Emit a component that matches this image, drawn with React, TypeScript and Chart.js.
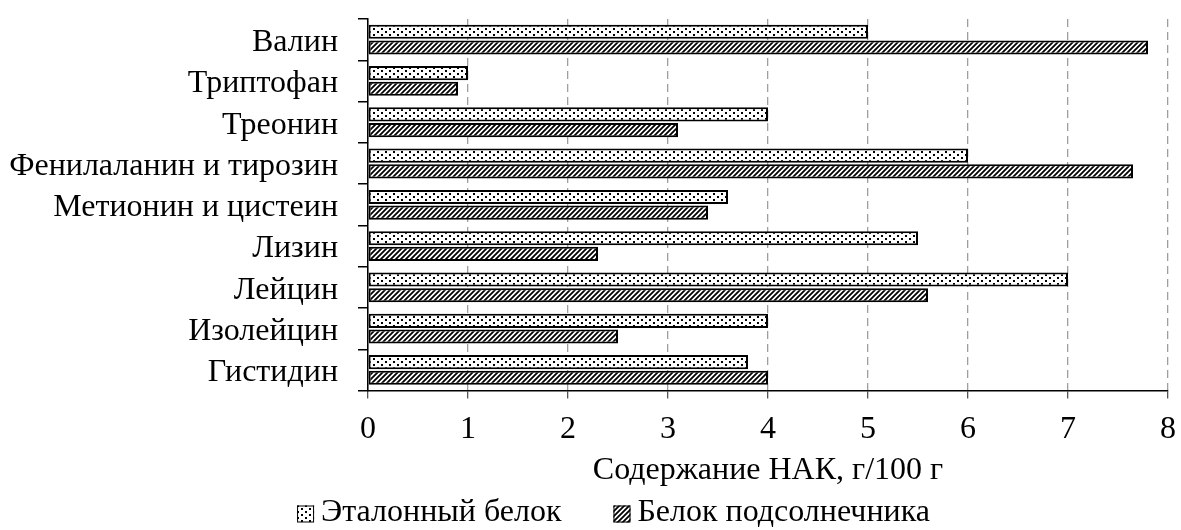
import React, { useEffect, useRef } from "react";
import { Chart, registerables } from "chart.js";

Chart.register(...registerables);

const categories = [
  "Валин",
  "Триптофан",
  "Треонин",
  "Фенилаланин и тирозин",
  "Метионин и цистеин",
  "Лизин",
  "Лейцин",
  "Изолейцин",
  "Гистидин",
];
const referenceProtein = [5, 1, 4, 6, 3.6, 5.5, 7, 4, 3.8];
const sunflowerProtein = [7.8, 0.9, 3.1, 7.65, 3.4, 2.3, 5.6, 2.5, 4.0];
const seriesNames = ["Эталонный белок", "Белок подсолнечника"];
const xTicks = [0, 1, 2, 3, 4, 5, 6, 7, 8];
const xTitle = "Содержание НАК, г/100 г";

const FONT = "'Liberation Serif', 'Times New Roman', serif";
const FONT_SIZE = 32;

function makeDots(): CanvasPattern | string {
  const w = 8;
  const h = 6;
  const c = document.createElement("canvas");
  c.width = w;
  c.height = h;
  const ctx = c.getContext("2d");
  if (!ctx) return "#fff";
  ctx.fillStyle = "#fff";
  ctx.fillRect(0, 0, w, h);
  ctx.fillStyle = "#000";
  ctx.fillRect(1, 1, 2, 2);
  ctx.fillRect(5, 4, 2, 2);
  return ctx.createPattern(c, "repeat") || "#fff";
}

function makeHatch(): CanvasPattern | string {
  const s = 5;
  const c = document.createElement("canvas");
  c.width = s;
  c.height = s;
  const ctx = c.getContext("2d");
  if (!ctx) return "#888";
  ctx.fillStyle = "#fff";
  ctx.fillRect(0, 0, s, s);
  ctx.strokeStyle = "#000";
  ctx.lineWidth = 1.8;
  ctx.beginPath();
  ctx.moveTo(-1, s + 1);
  ctx.lineTo(s + 1, -1);
  ctx.moveTo(-1, 1);
  ctx.lineTo(1, -1);
  ctx.moveTo(s - 1, s + 1);
  ctx.lineTo(s + 1, s - 1);
  ctx.stroke();
  return ctx.createPattern(c, "repeat") || "#888";
}

const bottomLegend = {
  id: "bottomLegend",
  afterDraw(chart: any) {
    const ctx = chart.ctx as CanvasRenderingContext2D;
    const box = 17;
    const gapBoxText = 7;
    const gapItems = 52;
    ctx.save();
    ctx.font = `${FONT_SIZE}px ${FONT}`;
    ctx.textBaseline = "middle";
    ctx.textAlign = "left";
    const items = chart.data.datasets.map((ds: any) => ({
      text: ds.label as string,
      fill: ds.backgroundColor,
      w: ctx.measureText(ds.label).width,
    }));
    const total =
      items.reduce((s: number, it: any) => s + box + gapBoxText + it.w, 0) +
      gapItems * (items.length - 1);
    let x = (chart.width - total) / 2 + 23;
    const cy = chart.height - 16;
    for (const it of items) {
      ctx.fillStyle = it.fill;
      ctx.fillRect(x, cy - box / 2, box, box);
      ctx.strokeStyle = "#000";
      ctx.lineWidth = 1;
      ctx.strokeRect(x + 0.5, cy - box / 2 + 0.5, box - 1, box - 1);
      ctx.fillStyle = "#000";
      ctx.fillText(it.text, x + box + gapBoxText, cy - 1);
      x += box + gapBoxText + it.w + gapItems;
    }
    ctx.restore();
  },
};

export default function App() {
  const ref = useRef<HTMLCanvasElement | null>(null);

  useEffect(() => {
    if (!ref.current) return;
    const dots = makeDots();
    const hatch = makeHatch();
    const chart = new Chart(ref.current, {
      type: "bar",
      data: {
        labels: categories,
        datasets: [
          {
            label: seriesNames[0],
            data: referenceProtein,
            backgroundColor: dots as any,
            borderColor: "#000",
            borderWidth: 2,
            borderSkipped: false,
          },
          {
            label: seriesNames[1],
            data: sunflowerProtein,
            backgroundColor: hatch as any,
            borderColor: "#000",
            borderWidth: 2,
            borderSkipped: false,
          },
        ],
      },
      plugins: [bottomLegend],
      options: {
        indexAxis: "y",
        animation: false,
        responsive: false,
        maintainAspectRatio: false,
        datasets: {
          bar: { categoryPercentage: 0.76, barPercentage: 0.9 },
        },
        layout: { padding: { top: 19, right: 13, left: 10, bottom: 40 } },
        plugins: {
          tooltip: { enabled: false },
          legend: { display: false },
        },
        scales: {
          x: {
            min: 0,
            max: 8,
            afterBuildTicks: (axis: any) => {
              axis.ticks = xTicks.map((v) => ({ value: v }));
            },
            afterFit: (axis: any) => {
              axis.paddingLeft = 0;
              axis.paddingRight = 0;
            },
            ticks: {
              color: "#000",
              font: { family: FONT, size: FONT_SIZE, lineHeight: 1 },
              padding: 15,
            },
            grid: {
              color: "#9e9e9e",
              lineWidth: 1.3,
              drawTicks: true,
              tickLength: 8,
              tickColor: "#555",
              tickBorderDash: [],
            } as any,
            border: { color: "#000", width: 1.5, dash: [8, 5] } as any,
            title: {
              display: true,
              text: xTitle,
              color: "#000",
              font: { family: FONT, size: FONT_SIZE },
              padding: { top: -9, bottom: 0 },
            },
          },
          y: {
            offset: true,
            afterFit: (axis: any) => {
              axis.paddingTop = 0;
              axis.paddingBottom = 0;
              axis.width = 358;
            },
            ticks: {
              color: "#000",
              font: { family: FONT, size: FONT_SIZE },
              padding: 20,
              autoSkip: false,
              labelOffset: 3,
            } as any,
            grid: {
              offset: true,
              drawOnChartArea: false,
              drawTicks: true,
              tickLength: 10,
              tickColor: "#000",
              lineWidth: 1.5,
            },
            border: { color: "#000", width: 1.5 },
          },
        },
      },
    });
    return () => chart.destroy();
  }, []);

  return (
    <div style={{ position: "fixed", left: 0, top: 0, width: 1181, height: 530, background: "#fff" }}>
      <canvas ref={ref} width={1181} height={530} style={{ display: "block" }} />
    </div>
  );
}
